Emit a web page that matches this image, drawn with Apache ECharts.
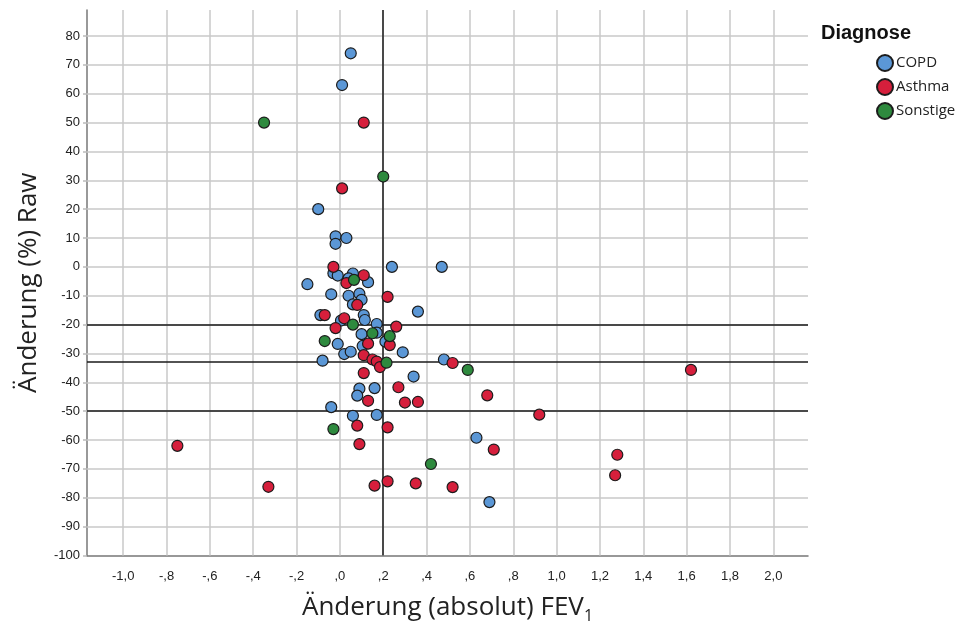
<!DOCTYPE html>
<html>
<head>
<meta charset="utf-8">
<script src="https://cdn.jsdelivr.net/npm/echarts@6/dist/echarts.min.js"></script>
<style>
  html, body { margin: 0; padding: 0; background: #fff; }
  #chart { width: 966px; height: 625px; }
</style>
</head>
<body>
<div id="chart"></div>
<script>
// Change in FEV1 (absolute) vs. change in airway resistance (%), by diagnosis
const copd = [
  [0.05, 74], [0.01, 63], [-0.10, 20], [-0.02, 10.6], [0.03, 10], [-0.02, 8],
  [0.24, 0], [0.47, 0], [-0.03, -2.2], [-0.01, -3], [0.06, -2.3], [0.04, -4.0],
  [0.13, -5.3], [-0.15, -6], [-0.04, -9.5], [0.04, -10], [0.09, -9.3], [0.10, -11.4],
  [0.06, -13], [0.36, -15.5], [-0.09, -16.7], [0.11, -16.7], [0.115, -18.4], [0.005, -18.6],
  [0.17, -19.8], [0.10, -23.3], [0.17, -22.8], [-0.01, -26.7], [0.105, -27.4], [0.21, -25.9],
  [0.29, -29.6], [0.02, -30.2], [0.05, -29.4], [-0.08, -32.5], [0.48, -32.1], [0.34, -38],
  [0.09, -42.2], [0.16, -42], [0.08, -44.6], [-0.04, -48.6], [0.06, -51.6], [0.17, -51.3],
  [0.63, -59.2], [0.69, -81.5]
];
const asthma = [
  [0.11, 50], [0.01, 27.2], [-0.03, 0], [0.11, -2.9], [0.03, -5.6], [0.22, -10.4],
  [0.08, -13.2], [-0.07, -16.7], [0.02, -17.8], [-0.02, -21.2], [0.26, -20.7], [0.13, -26.6],
  [0.23, -27.1], [0.11, -30.6], [0.15, -32.1], [0.17, -32.8], [0.185, -34.7], [0.52, -33.3],
  [0.11, -36.8], [0.27, -41.7], [0.13, -46.4], [0.30, -47], [0.36, -46.8], [0.68, -44.5],
  [0.92, -51.2], [0.08, -55], [0.22, -55.6], [0.09, -61.4], [0.71, -63.3], [1.62, -35.7],
  [1.28, -65.1], [1.27, -72.2], [-0.75, -62], [-0.33, -76.2], [0.16, -75.8], [0.22, -74.3],
  [0.35, -75], [0.52, -76.3]
];
const sonstige = [
  [-0.35, 50], [0.2, 31.3], [0.065, -4.5], [0.06, -20], [0.15, -23], [0.23, -24],
  [-0.07, -25.7], [0.215, -33.2], [0.59, -35.7], [-0.03, -56.2], [0.42, -68.3]
];

const seriesNames = ['COPD', 'Asthma', 'Sonstige'];
const xTicks = [-1.0, -0.8, -0.6, -0.4, -0.2, 0, 0.2, 0.4, 0.6, 0.8, 1.0, 1.2, 1.4, 1.6, 1.8, 2.0];
const yTicks = [-100, -90, -80, -70, -60, -50, -40, -30, -20, -10, 0, 10, 20, 30, 40, 50, 60, 70, 80];
const refX = [0.2];
const refY = [-20, -33, -50];

// SPSS-style decimals: ",8" / "-,2" / "1,4"
function fmtX(v) {
  const a = Math.abs(v);
  let s = a.toFixed(1).replace('.', ',');
  if (a < 1) s = s.replace(/^0/, '');
  return (v < -1e-9 ? '-' : '') + s;
}

const chart = echarts.init(document.getElementById('chart'), null, { renderer: 'canvas' });

const gridLine = { color: '#c9c9c9', width: 1.5, type: 'solid' };
const refLine = { color: '#1a1a1a', width: 1.5, type: 'solid' };
const tickFont = { fontFamily: 'Liberation Sans', fontSize: 13, color: '#222' };

const colors = ['#5b97d6', '#d61f3c', '#2e8a3e'];

function scatter(name, data, color) {
  return {
    name, type: 'scatter', data, z: 5,
    symbol: 'circle', symbolSize: 11,
    itemStyle: { color, borderColor: '#1c1c1c', borderWidth: 1.2, opacity: 1 },
    emphasis: { disabled: true }
  };
}

chart.setOption({
  animation: false,
  backgroundColor: '#fff',
  title: {
    text: 'Diagnose', left: 816, top: 18,
    textStyle: { fontFamily: 'Liberation Sans', fontWeight: 'bold', fontSize: 20, color: '#111' }
  },
  legend: {
    data: seriesNames, orient: 'vertical', left: 871, top: 49,
    icon: 'circle', itemWidth: 16, itemHeight: 16, itemGap: 6,
    textStyle: { fontFamily: 'Open Sans', fontSize: 15, lineHeight: 18, color: '#222', padding: [0, 0, 0, -2] }
  },
  grid: { left: 87, right: 158, top: 10, bottom: 69.5, containLabel: false, outerBoundsMode: 'none' },
  xAxis: {
    type: 'value', min: -1.167, max: 2.16,
    name: 'Änderung (absolut) FEV{sub|1}', nameLocation: 'middle', nameGap: 35,
    nameTextStyle: {
      fontFamily: 'Open Sans', fontSize: 26, color: '#222',
      rich: { sub: { fontFamily: 'Open Sans', fontSize: 16, color: '#222', verticalAlign: 'bottom', padding: [18, 0, 0, 0] } }
    },
    axisLine: { show: true, onZero: false, lineStyle: { color: '#777', width: 1.5 } },
    axisTick: { show: false },
    splitLine: { show: false },
    axisLabel: { ...tickFont, margin: 14, customValues: xTicks, formatter: fmtX }
  },
  yAxis: {
    type: 'value', min: -100, max: 89,
    name: 'Änderung (%) Raw', nameLocation: 'middle', nameGap: 45, nameRotate: 90,
    nameTextStyle: { fontFamily: 'Open Sans', fontSize: 26, color: '#222' },
    axisLine: { show: true, onZero: false, lineStyle: { color: '#777', width: 1.5 } },
    axisTick: { show: true, length: 4, customValues: yTicks, lineStyle: { color: '#bbb', width: 1.5 } },
    splitLine: { show: false },
    axisLabel: { ...tickFont, margin: 7, customValues: yTicks, formatter: v => String(Math.round(v)) }
  },
  series: [
    {
      name: 'grid', type: 'scatter', data: [], z: 1, silent: true,
      markLine: {
        silent: true, symbol: 'none', animation: false,
        label: { show: false }, lineStyle: gridLine, emphasis: { disabled: true },
        data: xTicks.map(v => ({ xAxis: v })).concat(yTicks.filter(v => v > -100).map(v => ({ yAxis: v })))
      }
    },
    {
      name: 'ref', type: 'scatter', data: [], z: 2, silent: true,
      markLine: {
        silent: true, symbol: 'none', animation: false,
        label: { show: false }, lineStyle: refLine, emphasis: { disabled: true },
        data: refX.map(v => ({ xAxis: v })).concat(refY.map(v => ({ yAxis: v })))
      }
    },
    scatter('COPD', copd, colors[0]),
    scatter('Asthma', asthma, colors[1]),
    scatter('Sonstige', sonstige, colors[2])
  ]
});
</script>
</body>
</html>
